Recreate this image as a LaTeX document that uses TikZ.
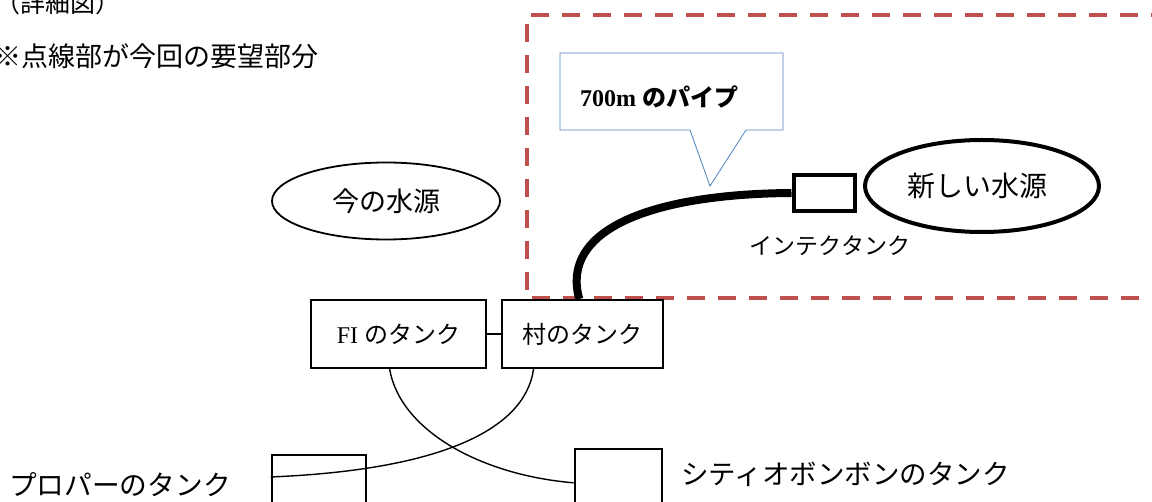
\documentclass[tikz,border=0pt]{standalone}
\usepackage{fontspec}
\setmainfont{Liberation Serif}
\newfontfamily\jp{Noto Sans CJK JP}
\usetikzlibrary{shapes.geometric,calc}
\definecolor{dashred}{HTML}{C0504D}
\definecolor{callblue}{HTML}{4F81BD}
\newcommand{\fs}[1]{\fontsize{#1}{#1}\selectfont}
\begin{document}
\begin{tikzpicture}[x=1pt,y=-1pt,
  tankbox/.style={draw, line width=2.2pt, inner sep=0pt, minimum height=68pt},
  plainbox/.style={draw, line width=2.6pt, inner sep=0pt},
  lbl/.style={inner sep=0pt, font=\jp},
  link/.style={line width=1.4pt}]
\useasboundingbox (0,0) rectangle (1152,502);

% header texts
\node[lbl, anchor=west, font=\jp\fs{25}] (title) at (-5,3) {（詳細図）};
\node[lbl, anchor=west, font=\jp\fs{27}] (note) at (-6,56) {※点線部が今回の要望部分};

% dashed request region
\draw[dashred, line width=4.5pt, dash pattern=on 18pt off 13pt] (1200,15) -- (527,15) -- (527,298) -- (1200,298);

% callout
\draw[callblue, line width=0.8pt, fill=white] (560,53) -- (783,53) -- (783,130) -- (746,130) -- (710,186) -- (690,130) -- (560,130) -- cycle;
\node[inner sep=0pt, anchor=west] (calltext) at (580,97) {\fs{24}\bfseries 700m {\jp\bfseries のパイプ}};

% water sources
\node[ellipse, draw, line width=1.8pt, minimum width=228pt, minimum height=77pt, inner sep=0pt, font=\jp\fs{27}] (cur) at (386,201) {今の水源};
\node[ellipse, draw, line width=4pt, minimum width=234pt, minimum height=92pt, inner sep=0pt, font=\jp\fs{28}] (new) at (982,186) {\hspace*{-10pt}新しい水源};

% intake tank
\node[draw, line width=4pt, minimum width=61pt, minimum height=36pt, inner sep=0pt] (intake) at (824,193) {};
\node[lbl, font=\jp\fs{23}] (intakelbl) at (830,246) {インテクタンク};

% tanks
\node[tankbox, minimum width=175pt] (fi) at (398.5,334) {\fs{24}FI {\jp のタンク}};
\node[tankbox, minimum width=161pt, font=\jp\fs{24}] (vil) at (582.5,334) {村のタンク};
\draw[link] (fi.east) -- (vil.west);

\node[plainbox, minimum width=94pt, minimum height=75pt] (propa) at (319,492.5) {};
\node[plainbox, minimum width=87pt, minimum height=81pt] (citi) at (618.5,489.5) {};
\node[lbl, anchor=west, font=\jp\fs{27.7}] (propalbl) at (9,485) {プロパーのタンク};
\node[lbl, anchor=west, font=\jp\fs{27.5}] (citilbl) at (681,474) {シティオボンボンのタンク};

% pipe
\coordinate (pipeend) at ($(vil.north west)!0.48!(vil.north east)$);
\draw[line width=8pt] (intake.west) .. controls (650,194) and (560,230) .. (pipeend);

% crossing connections
\coordinate (fibot) at ($(fi.south west)!0.45!(fi.south east)$);
\coordinate (vilbot) at ($(vil.south west)!0.2!(vil.south east)$);
\coordinate (citiin) at ($(citi.north west)!0.42!(citi.south west)$);
\coordinate (propain) at ($(propa.north west)!0.3!(propa.south west)$);
\draw[link] (fibot) .. controls (400,430) and (480,475) .. (citiin);
\draw[link] (vilbot) .. controls (525,430) and (440,470) .. (propain);
\end{tikzpicture}
\end{document}
